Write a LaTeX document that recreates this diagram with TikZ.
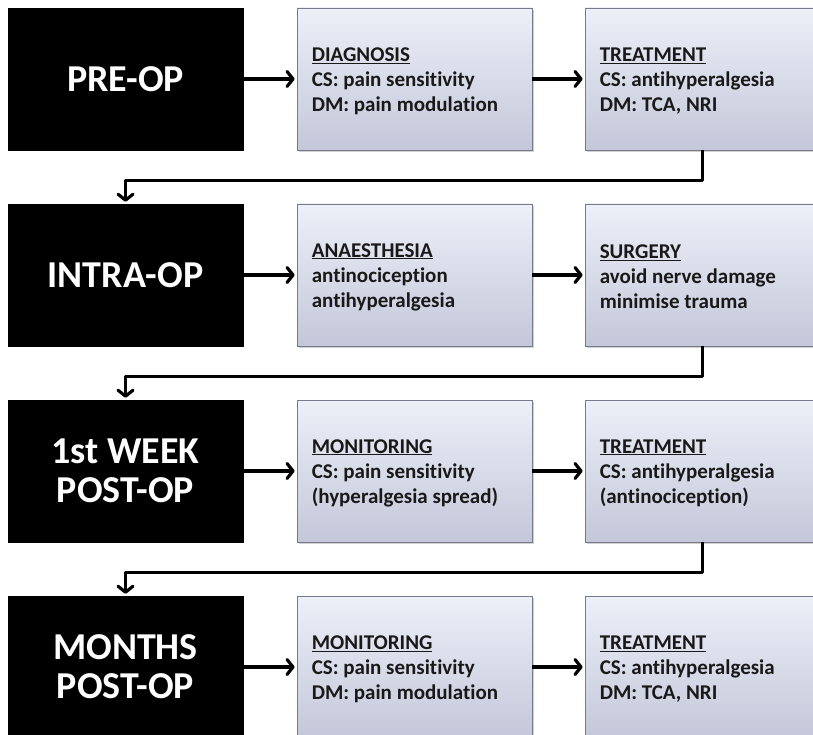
\documentclass[tikz,border=0pt]{standalone}
\usepackage{fontspec}
\setmainfont{Carlito}[RawFeature={-liga;-clig;-dlig}]
\usetikzlibrary{arrows.meta,shadows}

\definecolor{panelTop}{HTML}{EDF0F8}
\definecolor{panelBot}{HTML}{C3C7D9}
\definecolor{panelEdge}{HTML}{767A8A}

\tikzset{
  phase/.style={fill=black, draw=black, minimum width=235pt, minimum height=142pt,
    inner sep=0pt, text=white, font=\fontsize{38}{39}\selectfont\bfseries, align=center},
  panel/.style={top color=panelTop, bottom color=panelBot, draw=panelEdge, line width=0.8pt,
    minimum width=235pt, minimum height=142pt, inner sep=0pt,
    drop shadow={shadow xshift=1.5pt, shadow yshift=-2pt, opacity=0.3, fill=black!60}},
  paneltext/.style={anchor=west, align=left, inner sep=0pt, text=black!90,
    font=\fontsize{21}{25}\selectfont\bfseries},
  flow/.style={line width=3.2pt, -{Straight Barb[length=6pt,width=15pt,line cap=round,line join=round]},
    line join=round, shorten >=2pt},
}

\newcommand{\heading}[1]{\underline{#1}}

\begin{document}
\begin{tikzpicture}[x=1pt,y=-1pt]
  \useasboundingbox (0,0) rectangle (813,735);
  \clip (0,0) rectangle (813,735);
  \fill[white] (0,0) rectangle (813,735);

  % phase boxes
  \node[phase] (p1) at (125.5,79)  {PRE-OP};
  \node[phase] (p2) at (125.5,275) {INTRA-OP};
  \node[phase] (p3) at (125.5,471) {1st WEEK\\POST-OP};
  \node[phase] (p4) at (125.5,667) {MONTHS\\POST-OP};

  % first column of panels
  \node[panel] (a1) at (414.5,79)  {};
  \node[panel] (a2) at (414.5,275) {};
  \node[panel] (a3) at (414.5,471) {};
  \node[panel] (a4) at (414.5,667) {};

  % second column of panels
  \node[panel] (b1) at (702.5,79)  {};
  \node[panel] (b2) at (702.5,275) {};
  \node[panel] (b3) at (702.5,471) {};
  \node[panel] (b4) at (702.5,667) {};

  % panel contents
  \node[paneltext] (ta1) at ([xshift=15pt,yshift=-2pt]a1.west) {\heading{DIAGNOSIS}\\CS: pain sensitivity\\DM: pain modulation};
  \node[paneltext] (tb1) at ([xshift=15pt,yshift=-2pt]b1.west) {\heading{TREATMENT}\\CS: antihyperalgesia\\DM: TCA, NRI};
  \node[paneltext] (ta2) at ([xshift=15pt,yshift=-2pt]a2.west) {\heading{ANAESTHESIA}\\antinociception\\antihyperalgesia};
  \node[paneltext] (tb2) at ([xshift=15pt,yshift=-2pt]b2.west) {\heading{SURGERY}\\avoid nerve damage\\minimise trauma};
  \node[paneltext] (ta3) at ([xshift=15pt,yshift=-2pt]a3.west) {\heading{MONITORING}\\CS: pain sensitivity\\(hyperalgesia spread)};
  \node[paneltext] (tb3) at ([xshift=15pt,yshift=-2pt]b3.west) {\heading{TREATMENT}\\CS: antihyperalgesia\\(antinociception)};
  \node[paneltext] (ta4) at ([xshift=15pt,yshift=-2pt]a4.west) {\heading{MONITORING}\\CS: pain sensitivity\\DM: pain modulation};
  \node[paneltext] (tb4) at ([xshift=15pt,yshift=-2pt]b4.west) {\heading{TREATMENT}\\CS: antihyperalgesia\\DM: TCA, NRI};

  % arrows along each row
  \foreach \r in {1,2,3,4} {
    \draw[flow] (p\r.east) -- (a\r.west);
    \draw[flow] (a\r.east) -- (b\r.west);
  }

  % links from the end of one row to the start of the next
  \draw[flow] (b1.south) -- ++(0,30) -| (p2.north);
  \draw[flow] (b2.south) -- ++(0,30) -| (p3.north);
  \draw[flow] (b3.south) -- ++(0,30) -| (p4.north);
\end{tikzpicture}
\end{document}
